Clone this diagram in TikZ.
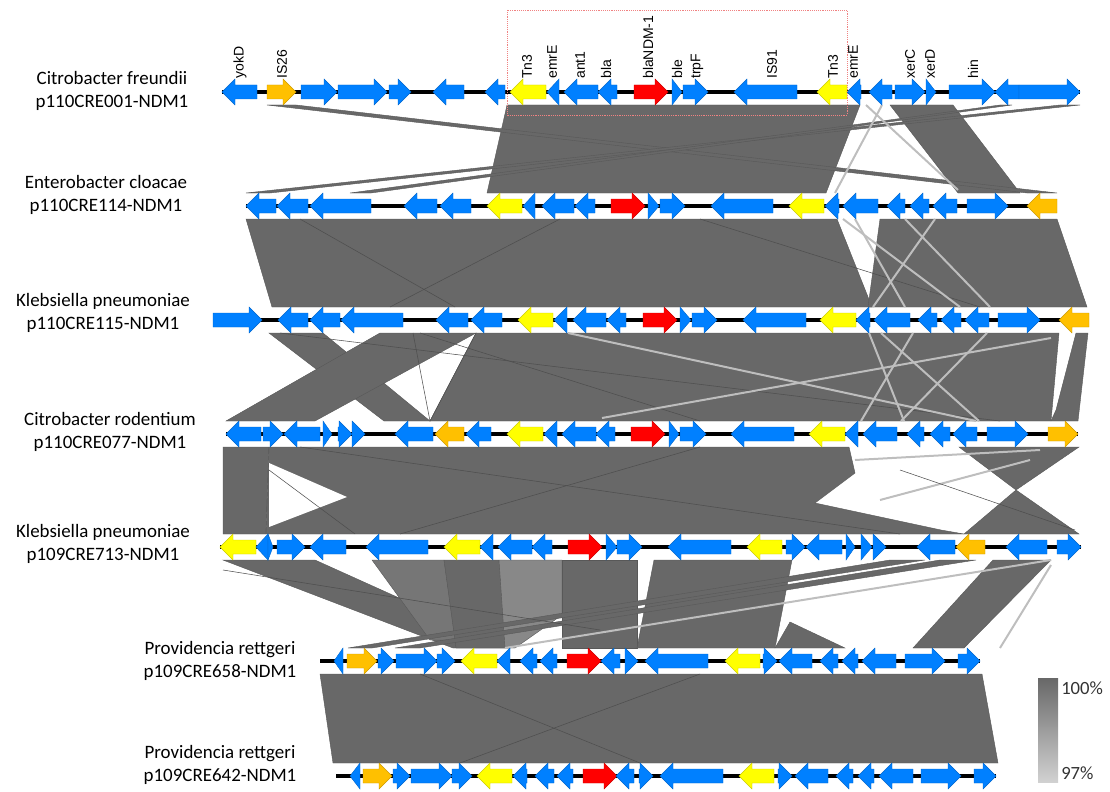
\documentclass[tikz,border=0pt]{standalone}
\usepackage{fontspec}
\setmainfont{Carlito}
\newfontfamily\arialf{Liberation Sans}
\definecolor{gBlue}{RGB}{0,128,255}
\definecolor{gYel}{RGB}{255,255,0}
\definecolor{gOra}{RGB}{255,192,0}
\definecolor{gRed}{RGB}{255,0,0}
\definecolor{bandc}{RGB}{104,104,104}
\definecolor{midc}{RGB}{118,118,118}
\definecolor{litc}{RGB}{136,136,136}
\definecolor{lightl}{RGB}{190,190,190}
\definecolor{boxred}{RGB}{240,130,130}
\newcommand\geneR[4]{%
  \pgfmathsetmacro\hh{min(13,#2-#1)}%
  \filldraw[gene,fill=#4,draw=#4!80!black] (#1,#3-7) -- ({#2-\hh},#3-7) -- ({#2-\hh},#3-13) -- (#2,#3) -- ({#2-\hh},#3+13) -- ({#2-\hh},#3+7) -- (#1,#3+7) -- cycle;}
\newcommand\geneL[4]{%
  \pgfmathsetmacro\hh{min(13,#2-#1)}%
  \filldraw[gene,fill=#4,draw=#4!80!black] (#2,#3-7) -- ({#1+\hh},#3-7) -- ({#1+\hh},#3-13) -- (#1,#3) -- ({#1+\hh},#3+13) -- ({#1+\hh},#3+7) -- (#2,#3+7) -- cycle;}
\newcommand\trackdraw[4]{%
  \draw[bbone] (#2,#1) -- (#3,#1);
  \foreach \xa/\xb/\xd/\xc in {#4} {\csname gene\xd\endcsname{\xa}{\xb}{#1}{\xc}}}
\tikzset{
  gene/.style={line width=0.3pt},
  band/.style={fill=bandc, draw=bandc!85!black, line width=0.3pt},
  lline/.style={draw=lightl, line width=1.5pt},
  dline/.style={draw=bandc!75!black, line width=0.4pt},
  bbone/.style={line width=2.4pt, black},
  tlab/.style={align=center, font=\fontsize{14.2}{17.5}\selectfont, inner sep=0},
  glab/.style={rotate=90, anchor=west, inner sep=0, font=\arialf\fontsize{10.5}{11}\selectfont},
  leglab/.style={anchor=west, inner sep=0, font=\fontsize{14}{16}\selectfont, text=black!80},
}
\begin{document}
\begin{tikzpicture}[x=0.75pt, y=-0.75pt]
\useasboundingbox (0,0) rectangle (1110,792);
% ---------- gap 1 ----------
\fill[band] (507,105)--(860,105)--(826,193)--(487,193)--cycle;
\fill[band] (890,105)--(953,105)--(1020,193)--(958,193)--cycle;
\fill[band] (267,105)--(296,105)--(1057,193)--(1027,193)--cycle;
\fill[band] (1060,105)--(1080,105)--(270,193)--(246,193)--cycle;
\fill[band] (1000,105)--(1012,105)--(371,193)--(350,193)--cycle;
\draw[lline] (866,105)--(958,190);
\draw[lline] (882,105)--(835,193);
% ---------- gap 2 ----------
\fill[band] (246,219)--(837,219)--(872,307)--(272,307)--cycle;
\fill[band] (880,219)--(1057,219)--(1087,307)--(868,307)--cycle;
\draw[dline] (300,219)--(455,307);
\draw[dline] (560,219)--(390,307);
\draw[dline] (700,219)--(980,307);
\draw[lline] (843,219)--(960,307);
\draw[lline] (935,219)--(873,307);
\draw[lline] (855,219)--(905,307);
\draw[lline] (905,219)--(990,307);
% ---------- gap 3 ----------
\fill[band] (269,333)--(323,333)--(430,421)--(384,421)--cycle;
\fill[band] (380,333)--(476,333)--(315,421)--(226,421)--cycle;
\fill[band] (476,333)--(1059,333)--(1051,421)--(430,421)--cycle;
\fill[band] (1076,333)--(1088,333)--(1078,421)--(1051,421)--(1056,410)--cycle;
\draw[dline] (413,333)--(430,421)--(476,333);
\draw[dline] (280,333)--(1000,421);
\draw[dline] (420,333)--(700,421);
\draw[lline] (568,333)--(976,421);
\draw[lline] (602,418)--(1051,338);
\draw[lline] (869,333)--(904,421);
\draw[lline] (913,333)--(861,421);
\draw[lline] (881,333)--(979,421);
\draw[lline] (987,333)--(901,421);
% ---------- gap 4 ----------
\fill[band] (223,447)--(269,447)--(266,534)--(223,534)--cycle;
\fill[band] (269,447)--(849,447)--(855,473)--(815,503)--(941,530)--(964,534)--(266,534)--cycle;
\fill[white] (269,463)--(347,497)--(269,527)--cycle;
\fill[band] (959,447)--(1079,447)--(1016,490)--cycle;
\fill[band] (964,534)--(1079,534)--(1016,490)--cycle;
\draw[dline] (300,447)--(900,534);
\draw[dline] (700,447)--(400,534);
\draw[dline] (269,470)--(355,534);
\draw[lline] (855,460)--(1040,450);
\draw[lline] (880,500)--(1030,460);
\draw[dline] (900,470)--(1075,530);
% ---------- gap 5 ----------
\fill[band] (223,560)--(315,560)--(510,648)--(453,648)--cycle;
\fill[band,fill=midc] (372,560)--(444,560)--(456,640)--(430,640)--cycle;
\fill[band] (444,560)--(499,560)--(510,648)--(456,648)--cycle;
\fill[band,fill=litc] (499,560)--(562,560)--(562,615)--(515,648)--(505,648)--cycle;
\fill[band] (562,560)--(637,560)--(637,648)--(562,648)--cycle;
\fill[band] (654,560)--(792,560)--(775,648)--(637,648)--cycle;
\fill[band] (775,648)--(845,648)--(790,622)--cycle;
\fill[band] (993,560)--(1051,560)--(964,648)--(913,648)--cycle;
\fill[band] (890,560)--(925,560)--(372,648)--(348,648)--cycle;
\fill[band] (940,560)--(976,560)--(420,648)--(395,648)--cycle;
\draw[lline] (505,648)--(1051,560);
\draw[lline] (1000,648)--(1051,565);
\draw[dline] (223,570)--(600,630);
% ---------- gap 6 ----------
\fill[band] (320,674)--(982,674)--(998,763)--(333,763)--cycle;
\draw[dline] (420,674)--(640,763);
\draw[dline] (700,674)--(460,763);
% ---------- tracks ----------
\trackdraw{92}{222}{1080}{222/257/L/gBlue, 267/296/R/gOra, 301/337/R/gBlue, 338/387/R/gBlue, 389/411/R/gBlue, 433/464/L/gBlue, 485/505/L/gBlue, 510/546/L/gYel, 547/559/L/gBlue, 564/598/L/gBlue, 598/617/L/gBlue, 634/668/R/gRed, 672/682/R/gBlue, 683/708/R/gBlue, 734/797/L/gBlue, 817/847/L/gYel, 847/861/L/gBlue, 869/892/L/gBlue, 895/925/R/gBlue, 926/936/R/gBlue, 949/995/R/gBlue, 995/1019/L/gBlue, 1019/1080/R/gBlue}
\trackdraw{206}{246}{1057}{246/276/L/gBlue, 277/308/L/gBlue, 310/371/L/gBlue, 404/437/L/gBlue, 440/471/L/gBlue, 487/522/L/gYel, 523/535/L/gBlue, 542/574/L/gBlue, 575/595/L/gBlue, 611/645/R/gRed, 648/659/R/gBlue, 660/685/R/gBlue, 711/773/L/gBlue, 789/824/L/gYel, 825/839/L/gBlue, 843/878/L/gBlue, 887/905/L/gBlue, 910/929/L/gBlue, 933/957/L/gBlue, 967/1008/R/gBlue, 1027/1057/L/gOra}
\trackdraw{320}{213}{1089}{213/262/R/gBlue, 278/308/L/gBlue, 310/340/L/gBlue, 341/403/L/gBlue, 436/468/L/gBlue, 471/502/L/gBlue, 518/553/L/gYel, 554/567/L/gBlue, 573/606/L/gBlue, 607/626/L/gBlue, 643/677/R/gRed, 680/691/R/gBlue, 692/717/R/gBlue, 743/806/L/gBlue, 820/856/L/gYel, 856/870/L/gBlue, 874/910/L/gBlue, 918/937/L/gBlue, 941/961/L/gBlue, 965/989/L/gBlue, 998/1040/R/gBlue, 1059/1089/L/gOra}
\trackdraw{434}{226}{1078}{226/261/L/gBlue, 263/283/R/gBlue, 284/320/L/gBlue, 323/332/R/gBlue, 338/352/R/gBlue, 352/365/R/gBlue, 395/433/L/gBlue, 435/464/L/gOra, 466/491/L/gBlue, 507/543/L/gYel, 544/557/L/gBlue, 562/596/L/gBlue, 596/615/L/gBlue, 631/665/R/gRed, 669/679/R/gBlue, 680/706/R/gBlue, 731/794/L/gBlue, 809/845/L/gYel, 845/858/L/gBlue, 863/897/L/gBlue, 907/924/L/gBlue, 930/950/L/gBlue, 953/977/L/gBlue, 987/1028/R/gBlue, 1048/1078/R/gOra}
\trackdraw{547}{220}{1081}{220/256/L/gYel, 256/268/L/gBlue, 268/273/R/gBlue, 277/305/R/gBlue, 310/346/L/gBlue, 366/428/L/gBlue, 444/480/L/gYel, 480/493/L/gBlue, 498/532/L/gBlue, 532/552/L/gBlue, 568/602/R/gRed, 606/617/R/gBlue, 617/642/R/gBlue, 668/731/L/gBlue, 747/782/L/gYel, 786/805/R/gBlue, 806/842/L/gBlue, 846/855/R/gBlue, 861/872/R/gBlue, 873/886/R/gBlue, 917/955/L/gBlue, 956/985/L/gOra, 1006/1047/L/gBlue, 1057/1081/R/gBlue}
\trackdraw{661}{320}{980}{334/343/L/gBlue, 347/377/R/gOra, 378/394/R/gBlue, 396/437/R/gBlue, 437/455/R/gBlue, 461/497/L/gYel, 497/510/L/gBlue, 520/537/L/gBlue, 540/557/L/gBlue, 567/601/R/gRed, 601/620/L/gBlue, 625/638/R/gBlue, 645/708/L/gBlue, 725/760/L/gYel, 763/777/R/gBlue, 779/812/L/gBlue, 820/838/L/gBlue, 842/858/L/gBlue, 862/896/L/gBlue, 905/945/R/gBlue, 958/980/R/gBlue}
\trackdraw{776}{336}{996}{350/360/L/gBlue, 363/392/R/gOra, 393/410/R/gBlue, 411/452/R/gBlue, 452/472/R/gBlue, 477/512/L/gYel, 513/527/L/gBlue, 535/554/L/gBlue, 557/573/L/gBlue, 583/617/R/gRed, 616/634/L/gBlue, 639/653/R/gBlue, 660/723/L/gBlue, 739/774/L/gYel, 778/792/R/gBlue, 795/828/L/gBlue, 836/853/L/gBlue, 858/874/L/gBlue, 879/913/L/gBlue, 921/961/R/gBlue, 974/996/R/gBlue}
% ---------- gene labels ----------
\foreach \x/\t in {240/yokD, 282/IS26, 527/Tn3, 552/emrE, 580/ant1, 606/bla, 648/blaNDM-1, 677/ble, 697/trpF, 772/IS91, 833/Tn3, 853/emrE, 910/xerC, 930/xerD, 973/hin}
  \node[glab] (gl\x) at (\x,79) {\t};
% ---------- highlight box ----------
\draw[boxred, densely dotted, line width=0.4pt] (507,10) rectangle (847,115);
% ---------- track labels ----------
\node[tlab] (t1) at (112,91) {Citrobacter freundii\\p110CRE001-NDM1};
\node[tlab] (t2) at (106,195) {Enterobacter cloacae\\p110CRE114-NDM1};
\node[tlab] (t3) at (103,313) {Klebsiella pneumoniae\\p110CRE115-NDM1};
\node[tlab] (t4) at (110,432) {Citrobacter rodentium\\p110CRE077-NDM1};
\node[tlab] (t5) at (103,544) {Klebsiella pneumoniae\\p109CRE713-NDM1};
\node[tlab] (t6) at (220,661) {Providencia rettgeri\\p109CRE658-NDM1};
\node[tlab] (t7) at (220,765) {Providencia rettgeri\\p109CRE642-NDM1};
% ---------- legend ----------
\shade[top color=bandc, bottom color=black!18] (1038,678) rectangle (1058,782);
\node[leglab] (l100) at (1061,688) {100\%};
\node[leglab] (l97) at (1061,773) {97\%};
\end{tikzpicture}
\end{document}
